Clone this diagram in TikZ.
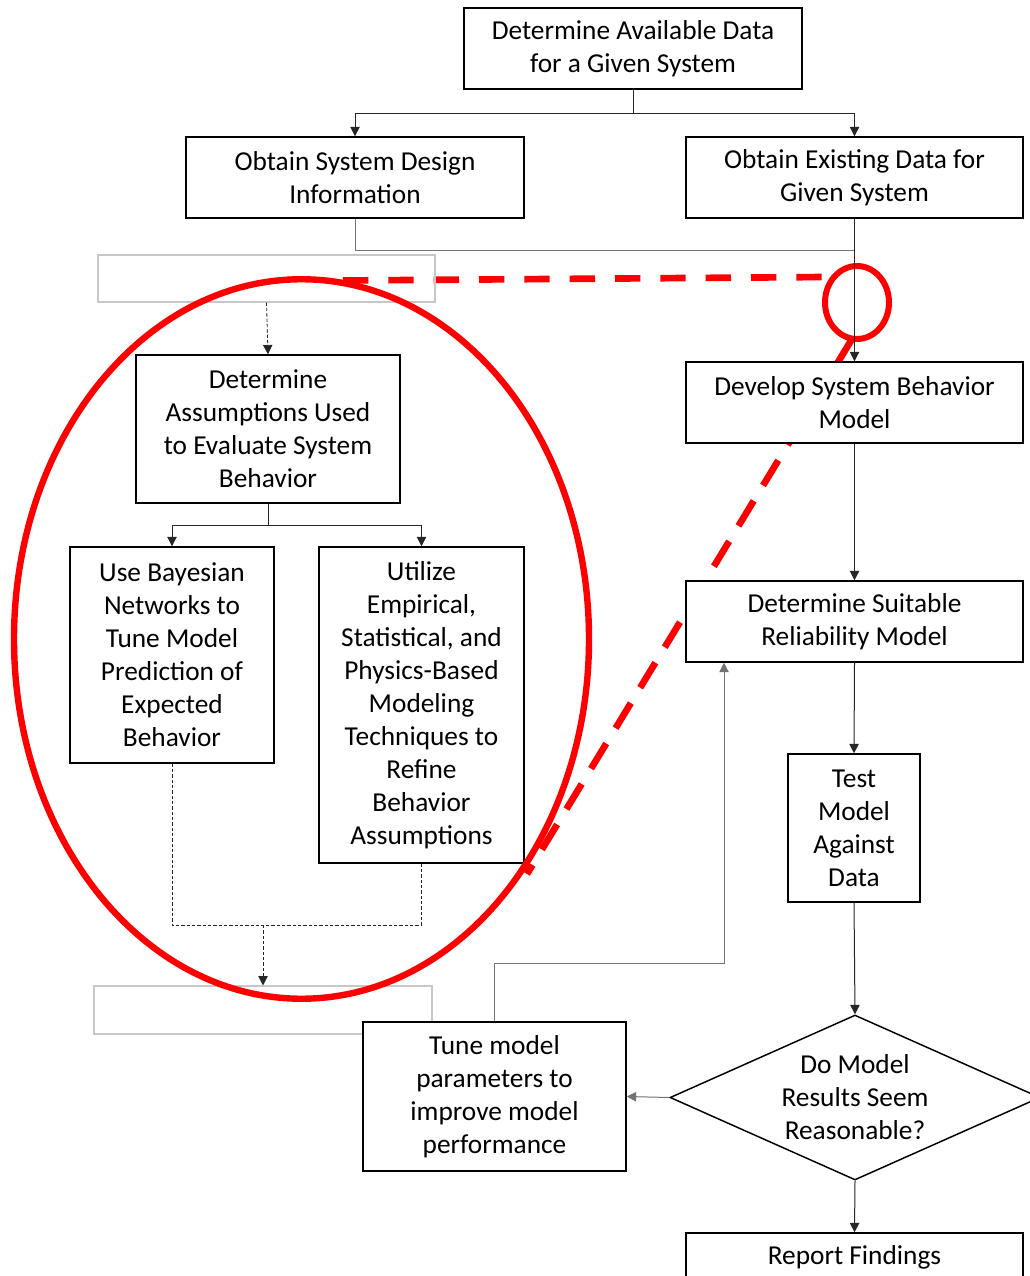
\documentclass[tikz,border=0pt]{standalone}
\usepackage{fontspec}
\setmainfont{Carlito}
\usetikzlibrary{arrows.meta,shapes.geometric,calc}
\begin{document}
\begin{tikzpicture}[x=0.75pt,y=-0.75pt,
  txt/.style={font=\fontsize{20.5}{24.75}\selectfont,align=center,inner sep=0pt},
  box/.style={txt,draw=black,line width=1.1pt,fill=white,rectangle},
  faint/.style={draw=black!22,line width=0.8pt,rectangle,inner sep=0pt},
  conn/.style={draw=black!85,line width=0.75pt,-{Triangle[length=7pt,width=7pt]}},
  plain/.style={draw=black!85,line width=0.75pt},
  dconn/.style={draw=black!85,line width=0.6pt,dash pattern=on 2.5pt off 1.5pt,-{Triangle[length=7pt,width=7pt]}},
  dplain/.style={draw=black!85,line width=0.6pt,dash pattern=on 2.5pt off 1.5pt},
  redline/.style={draw=red,line width=5pt},
  redring/.style={draw=red,ellipse,inner sep=0pt}
]
\clip (0,0) rectangle (1030,1276);
\fill[white] (0,0) rectangle (1030,1276);

% red annotation lines (behind boxes)
\coordinate (rh1) at (343,280.5);
\coordinate (rh2) at (826,277);
\draw[redline,dash pattern=on 19pt off 15pt] (rh1) -- (rh2);
\coordinate (rs1) at (852,339);
\coordinate (rs2) at (527,874);
\draw[redline,dash pattern=on 22pt off 13.5pt] (rs1) -- (rs2);

% boxes
\node[box,minimum width=253.5pt,minimum height=60.75pt] (A) at (633,48.5) {Determine Available Data\\for a Given System};
\node[box,minimum width=253.5pt,minimum height=60.75pt] (B) at (355,177.5) {Obtain System Design\\Information};
\node[box,minimum width=252.75pt,minimum height=60.75pt] (C) at (854.5,177.5) {Obtain Existing Data for\\Given System};
\node[faint,minimum width=252.75pt,minimum height=35.25pt] (ftop) at (266.5,278.5) {};
\node[box,minimum width=198pt,minimum height=111pt] (D) at (268,429) {Determine\\Assumptions Used\\to Evaluate System\\Behavior};
\node[box,minimum width=153pt,minimum height=162pt] (E) at (172,655) {Use Bayesian\\Networks to\\Tune Model\\Prediction of\\Expected\\Behavior};
\node[box,minimum width=153.75pt,minimum height=237pt] (F) at (421.5,705) {Utilize\\Empirical,\\Statistical, and\\Physics-Based\\Modeling\\Techniques to\\Refine\\Behavior\\Assumptions};
\node[faint,minimum width=253.5pt,minimum height=36pt] (fbot) at (263,1010) {};
\node[box,minimum width=252.75pt,minimum height=60.75pt] (G) at (854.5,402.5) {Develop System Behavior\\Model};
\node[box,minimum width=252.75pt,minimum height=60.75pt] (H) at (854.5,621.5) {Determine Suitable\\Reliability Model};
\node[box,minimum width=99pt,minimum height=111pt] (I) at (854,828) {Test\\Model\\Against\\Data};
\node[draw=black,line width=1.1pt,fill=white,diamond,inner sep=0pt,minimum width=277.5pt,minimum height=123.75pt] (J) at (855,1097.5) {};
\node[txt] (Jt) at (855,1097.5) {Do Model\\Results Seem\\Reasonable?};
\node[box,minimum width=197.25pt,minimum height=111.75pt] (K) at (494.5,1096.5) {Tune model\\parameters to\\improve model\\performance};
\node[box,minimum width=252.75pt,minimum height=36pt] (L) at (854.5,1257) {Report Findings};

% red rings
\node[redring,line width=4.5pt,minimum width=48pt,minimum height=54.75pt] (lens) at (857,302.5) {};
\node[redring,line width=4.8pt,minimum width=431.25pt,minimum height=539.6pt] (zoom) at (301.5,639) {};

% connectors
\draw[conn] (A.south) -- ++(0,24) -| (B.north);
\draw[conn] (A.south) -- ++(0,24) -| (C.north);
\coordinate (j1) at (854.5,251);
\draw[plain,draw=black!55] (B.south) |- (j1);
\draw[conn] (C.south) -- (G.north);
\draw[dconn] (ftop.south) -- (D.north);
\draw[conn] (D.south) -- ++(0,22) -| (E.north);
\draw[conn] (D.south) -- ++(0,22) -| (F.north);
\coordinate (j2) at (263,925);
\draw[dplain] (E.south) |- (j2);
\draw[dplain] (F.south) |- (j2);
\draw[dconn] (j2) -- (fbot.north);
\draw[conn] (G.south) -- (H.north);
\draw[conn] (H.south) -- (I.north);
\draw[conn] (I.south) -- (J.north);
\draw[conn,draw=black!55] (J.west) -- (K.east);
\draw[conn] (J.south) -- (L.north);
\coordinate (j3) at (724,963);
\draw[conn,draw=black!55] (K.north) |- (j3) -- (H.south -| j3);
\end{tikzpicture}
\end{document}
